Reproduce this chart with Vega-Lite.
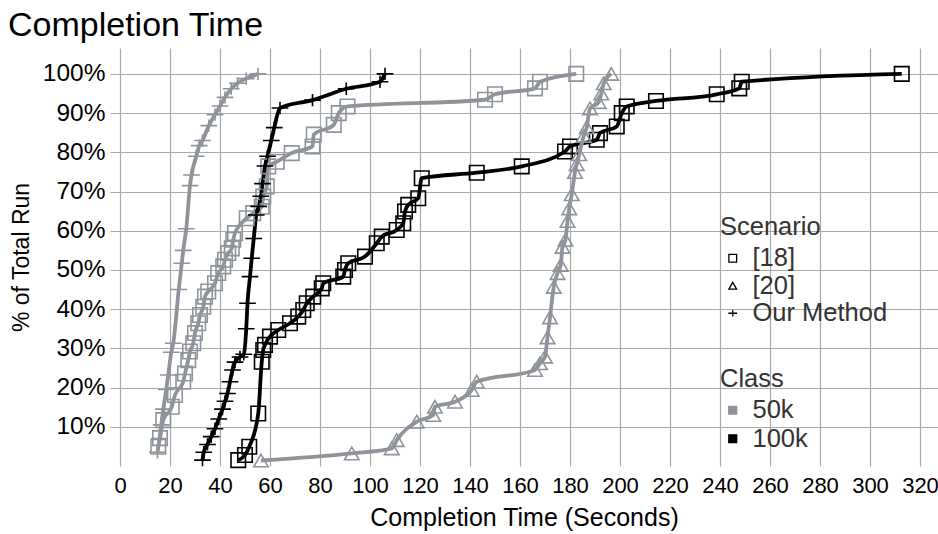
{
  "$schema": "https://vega.github.io/schema/vega-lite/v6.json",
  "autosize": {"type": "none"},
  "padding": {"left": 110, "top": 48, "right": 0, "bottom": 68},
  "width": 828,
  "height": 418,
  "background": "white",
  "title": {"text": "Completion Time", "anchor": "start", "frame": "group", "dx": -102, "offset": 5, "fontSize": 34, "font": "Liberation Sans", "fontWeight": "normal", "color": "black"},
  "config": {
    "view": {"stroke": null},
    "font": "Liberation Sans",
    "axis": {"gridColor": "#a9a9a9", "gridWidth": 1.2, "domain": false, "ticks": false, "labelFont": "Liberation Sans", "labelFontSize": 22, "labelColor": "black", "titleFont": "Liberation Sans", "titleFontSize": 23, "titleFontWeight": "normal", "titleColor": "black"},
    "legend": {"titleFont": "Liberation Sans", "titleFontSize": 25.5, "titleFontWeight": "normal", "titleColor": "#333333", "labelFont": "Liberation Sans", "labelFontSize": 25.5, "labelColor": "#333333"}
  },
  "data": {"values": [
    {"c":"50k","s":"Our Method","x":15,"y":3.5},{"c":"50k","s":"Our Method","x":15.8,"y":7},{"c":"50k","s":"Our Method","x":16.5,"y":10.5},{"c":"50k","s":"Our Method","x":17.3,"y":14.5},{"c":"50k","s":"Our Method","x":18.5,"y":19.5},{"c":"50k","s":"Our Method","x":19.3,"y":23.2},{"c":"50k","s":"Our Method","x":20.5,"y":29},{"c":"50k","s":"Our Method","x":21.3,"y":31.3},{"c":"50k","s":"Our Method","x":23.5,"y":45},{"c":"50k","s":"Our Method","x":24.7,"y":51.7},{"c":"50k","s":"Our Method","x":25.3,"y":55},{"c":"50k","s":"Our Method","x":26.5,"y":60.5},{"c":"50k","s":"Our Method","x":28,"y":71.5},{"c":"50k","s":"Our Method","x":28.6,"y":74.2},{"c":"50k","s":"Our Method","x":30.5,"y":79},{"c":"50k","s":"Our Method","x":31.7,"y":81.7},{"c":"50k","s":"Our Method","x":33,"y":83},{"c":"50k","s":"Our Method","x":35.5,"y":86.8},{"c":"50k","s":"Our Method","x":38,"y":89.6},{"c":"50k","s":"Our Method","x":40,"y":91.8},{"c":"50k","s":"Our Method","x":42,"y":94},{"c":"50k","s":"Our Method","x":44.5,"y":96.2},{"c":"50k","s":"Our Method","x":47,"y":97.6},{"c":"50k","s":"Our Method","x":50.5,"y":98.8},{"c":"50k","s":"Our Method","x":55.2,"y":100},
    {"c":"50k","s":"[18]","x":15.3,"y":4.9},{"c":"50k","s":"[18]","x":16,"y":7.1},{"c":"50k","s":"[18]","x":17.3,"y":11.7},{"c":"50k","s":"[18]","x":20.7,"y":15.1},{"c":"50k","s":"[18]","x":22,"y":18.1},{"c":"50k","s":"[18]","x":25.3,"y":21.5},{"c":"50k","s":"[18]","x":26,"y":23.6},{"c":"50k","s":"[18]","x":27.3,"y":27},{"c":"50k","s":"[18]","x":28,"y":29.2},{"c":"50k","s":"[18]","x":29.3,"y":31.3},{"c":"50k","s":"[18]","x":30,"y":33.9},{"c":"50k","s":"[18]","x":31.3,"y":36.4},{"c":"50k","s":"[18]","x":32,"y":38.5},{"c":"50k","s":"[18]","x":33.3,"y":40.6},{"c":"50k","s":"[18]","x":34,"y":43.2},{"c":"50k","s":"[18]","x":35.3,"y":44.5},{"c":"50k","s":"[18]","x":38,"y":46.6},{"c":"50k","s":"[18]","x":39.3,"y":49.2},{"c":"50k","s":"[18]","x":41.3,"y":50.9},{"c":"50k","s":"[18]","x":42,"y":52.6},{"c":"50k","s":"[18]","x":43.3,"y":54.3},{"c":"50k","s":"[18]","x":44.7,"y":55.5},{"c":"50k","s":"[18]","x":45.3,"y":57.7},{"c":"50k","s":"[18]","x":46,"y":59.4},{"c":"50k","s":"[18]","x":50.7,"y":63.2},{"c":"50k","s":"[18]","x":53.3,"y":64.5},{"c":"50k","s":"[18]","x":56.7,"y":66.1},{"c":"50k","s":"[18]","x":57.3,"y":68.7},{"c":"50k","s":"[18]","x":58.7,"y":71.3},{"c":"50k","s":"[18]","x":59.3,"y":76.4},{"c":"50k","s":"[18]","x":62.7,"y":77.6},{"c":"50k","s":"[18]","x":68.7,"y":79.8},{"c":"50k","s":"[18]","x":77,"y":81.5},{"c":"50k","s":"[18]","x":77.5,"y":84.5},{"c":"50k","s":"[18]","x":85.5,"y":87},{"c":"50k","s":"[18]","x":87.5,"y":90},{"c":"50k","s":"[18]","x":91,"y":91.7},{"c":"50k","s":"[18]","x":146,"y":93.4},{"c":"50k","s":"[18]","x":150,"y":94.8},{"c":"50k","s":"[18]","x":166,"y":96.3},{"c":"50k","s":"[18]","x":168,"y":98},{"c":"50k","s":"[18]","x":182.5,"y":100},
    {"c":"100k","s":"Our Method","x":33,"y":1.5},{"c":"100k","s":"Our Method","x":33.5,"y":3.5},{"c":"100k","s":"Our Method","x":35,"y":5.5},{"c":"100k","s":"Our Method","x":36.5,"y":7.5},{"c":"100k","s":"Our Method","x":38,"y":9.5},{"c":"100k","s":"Our Method","x":39.5,"y":12},{"c":"100k","s":"Our Method","x":41,"y":14.5},{"c":"100k","s":"Our Method","x":42,"y":16.5},{"c":"100k","s":"Our Method","x":43,"y":18.5},{"c":"100k","s":"Our Method","x":44,"y":21.5},{"c":"100k","s":"Our Method","x":45,"y":24.5},{"c":"100k","s":"Our Method","x":46,"y":26.5},{"c":"100k","s":"Our Method","x":48,"y":27.8},{"c":"100k","s":"Our Method","x":49.5,"y":28.5},{"c":"100k","s":"Our Method","x":50.5,"y":35},{"c":"100k","s":"Our Method","x":51,"y":41.5},{"c":"100k","s":"Our Method","x":52,"y":48.3},{"c":"100k","s":"Our Method","x":52.7,"y":53},{"c":"100k","s":"Our Method","x":53.5,"y":58},{"c":"100k","s":"Our Method","x":54.5,"y":64},{"c":"100k","s":"Our Method","x":55.5,"y":66.2},{"c":"100k","s":"Our Method","x":56.3,"y":68.8},{"c":"100k","s":"Our Method","x":57,"y":72},{"c":"100k","s":"Our Method","x":58,"y":76.5},{"c":"100k","s":"Our Method","x":59,"y":79},{"c":"100k","s":"Our Method","x":60.5,"y":83},{"c":"100k","s":"Our Method","x":61.7,"y":86.3},{"c":"100k","s":"Our Method","x":64,"y":91.3},{"c":"100k","s":"Our Method","x":77,"y":93.3},{"c":"100k","s":"Our Method","x":90.5,"y":96.2},{"c":"100k","s":"Our Method","x":104,"y":98},{"c":"100k","s":"Our Method","x":106,"y":100},
    {"c":"100k","s":"[18]","x":47.3,"y":1.5},{"c":"100k","s":"[18]","x":50,"y":2.8},{"c":"100k","s":"[18]","x":51.7,"y":4.9},{"c":"100k","s":"[18]","x":55.3,"y":13.4},{"c":"100k","s":"[18]","x":56.7,"y":26.6},{"c":"100k","s":"[18]","x":57.3,"y":29.6},{"c":"100k","s":"[18]","x":58,"y":30.9},{"c":"100k","s":"[18]","x":60,"y":33},{"c":"100k","s":"[18]","x":63.3,"y":34.7},{"c":"100k","s":"[18]","x":68,"y":36.4},{"c":"100k","s":"[18]","x":71.3,"y":38.1},{"c":"100k","s":"[18]","x":73.3,"y":39.8},{"c":"100k","s":"[18]","x":74.7,"y":41.5},{"c":"100k","s":"[18]","x":77.3,"y":43.2},{"c":"100k","s":"[18]","x":80.7,"y":45.3},{"c":"100k","s":"[18]","x":81.3,"y":46.6},{"c":"100k","s":"[18]","x":89.3,"y":48.3},{"c":"100k","s":"[18]","x":90,"y":50},{"c":"100k","s":"[18]","x":91.3,"y":51.7},{"c":"100k","s":"[18]","x":98,"y":53.4},{"c":"100k","s":"[18]","x":102.7,"y":56.8},{"c":"100k","s":"[18]","x":104.7,"y":58.5},{"c":"100k","s":"[18]","x":110.7,"y":60.2},{"c":"100k","s":"[18]","x":113.3,"y":61.9},{"c":"100k","s":"[18]","x":114,"y":64.9},{"c":"100k","s":"[18]","x":115.3,"y":66.6},{"c":"100k","s":"[18]","x":119.3,"y":68.3},{"c":"100k","s":"[18]","x":120.7,"y":73.4},{"c":"100k","s":"[18]","x":142.7,"y":74.8},{"c":"100k","s":"[18]","x":160.7,"y":76.4},{"c":"100k","s":"[18]","x":178,"y":80.2},{"c":"100k","s":"[18]","x":180,"y":81.5},{"c":"100k","s":"[18]","x":190.7,"y":83.2},{"c":"100k","s":"[18]","x":192,"y":84.9},{"c":"100k","s":"[18]","x":198.7,"y":86.6},{"c":"100k","s":"[18]","x":200.7,"y":90},{"c":"100k","s":"[18]","x":202.7,"y":91.7},{"c":"100k","s":"[18]","x":214.4,"y":93.1},{"c":"100k","s":"[18]","x":238.7,"y":94.8},{"c":"100k","s":"[18]","x":247.7,"y":96.3},{"c":"100k","s":"[18]","x":248.7,"y":98},{"c":"100k","s":"[18]","x":312.7,"y":100},
    {"c":"50k","s":"[20]","x":56.4,"y":1.4},{"c":"50k","s":"[20]","x":92.7,"y":3.2},{"c":"50k","s":"[20]","x":108.7,"y":4.5},{"c":"50k","s":"[20]","x":110.7,"y":6.6},{"c":"50k","s":"[20]","x":118.7,"y":11.3},{"c":"50k","s":"[20]","x":125.3,"y":13},{"c":"50k","s":"[20]","x":126,"y":15.1},{"c":"50k","s":"[20]","x":134,"y":16.4},{"c":"50k","s":"[20]","x":140.7,"y":19.4},{"c":"50k","s":"[20]","x":142.7,"y":21.5},{"c":"50k","s":"[20]","x":166,"y":24.5},{"c":"50k","s":"[20]","x":168,"y":26.2},{"c":"50k","s":"[20]","x":170,"y":27.9},{"c":"50k","s":"[20]","x":171,"y":32.8},{"c":"50k","s":"[20]","x":172,"y":37.9},{"c":"50k","s":"[20]","x":173.5,"y":45.7},{"c":"50k","s":"[20]","x":175,"y":49.2},{"c":"50k","s":"[20]","x":176.3,"y":51.3},{"c":"50k","s":"[20]","x":177,"y":55.9},{"c":"50k","s":"[20]","x":178.2,"y":57.7},{"c":"50k","s":"[20]","x":179,"y":62.5},{"c":"50k","s":"[20]","x":179.7,"y":65.7},{"c":"50k","s":"[20]","x":180.7,"y":69.3},{"c":"50k","s":"[20]","x":182,"y":75},{"c":"50k","s":"[20]","x":182.7,"y":77},{"c":"50k","s":"[20]","x":183.7,"y":79.5},{"c":"50k","s":"[20]","x":185.5,"y":84.2},{"c":"50k","s":"[20]","x":186.7,"y":86.4},{"c":"50k","s":"[20]","x":188,"y":91.2},{"c":"50k","s":"[20]","x":191.5,"y":92.8},{"c":"50k","s":"[20]","x":192.5,"y":95},{"c":"50k","s":"[20]","x":193.5,"y":97.6},{"c":"50k","s":"[20]","x":196.5,"y":100}
  ]},
  "encoding": {
    "x": {"field": "x", "type": "quantitative", "scale": {"domain": [-4, 327.2], "nice": false, "zero": false}, "axis": {"values": [0,20,40,60,80,100,120,140,160,180,200,220,240,260,280,300,320], "title": "Completion Time (Seconds)", "titleFontSize": 25, "labelPadding": 9, "titlePadding": 9, "labelFlush": false}},
    "y": {"field": "y", "type": "quantitative", "scale": {"domain": [0, 106.6], "nice": false}, "axis": {"values": [10,20,30,40,50,60,70,80,90,100], "labelExpr": "datum.value + '%'", "labelFontSize": 24.5, "title": "% of Total Run", "labelPadding": 5, "titlePadding": 9}},
    "color": {"field": "c", "type": "nominal", "scale": {"domain": ["50k", "100k"], "range": ["#8f949a", "#000000"]}, "legend": {"title": "Class", "orient": "none", "legendX": 610, "legendY": 319, "symbolType": "square", "symbolSize": 60, "rowPadding": 1.5, "labelOffset": 7, "encode": {"symbols": {"update": {"fill": {"scale": "color", "field": "value"}, "stroke": {"value": "transparent"}, "shape": {"value": "square"}}}}}}
  },
  "layer": [
    {"mark": {"type": "line", "strokeWidth": 3.8, "interpolate": "monotone"}, "encoding": {"detail": {"field": "s"}, "order": {"field": "y", "type": "quantitative"}}},
    {"mark": {"type": "point", "filled": false, "strokeWidth": 1.6, "opacity": 1, "size": 210}, "encoding": {
      "shape": {"field": "s", "type": "nominal", "scale": {"domain": ["[18]", "[20]", "Our Method"], "range": ["square", "triangle-up", "M-1.15,0H1.15M0,-0.85V0.85"]}, "legend": {"title": "Scenario", "orient": "none", "legendX": 610, "legendY": 167, "symbolSize": 60, "symbolStrokeColor": "black", "symbolFillColor": "transparent", "symbolStrokeWidth": 1.3, "rowPadding": 0.5, "labelOffset": 7}}
    }}
  ]
}
